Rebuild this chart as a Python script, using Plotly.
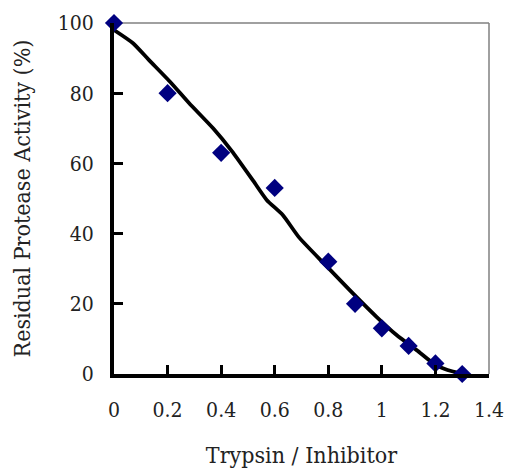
import plotly.graph_objects as go

# measured data points
ratio = [0, 0.2, 0.4, 0.6, 0.8, 0.9, 1.0, 1.1, 1.2, 1.3]
activity = [100, 80, 63, 53, 32, 20, 13, 8, 3, 0]

# fitted (smoothed) curve
curve_x = [0, 0.07, 0.13, 0.21, 0.28, 0.37, 0.44, 0.52, 0.57, 0.63, 0.69, 0.79, 0.88, 0.98, 1.055, 1.13, 1.2, 1.265, 1.3]
curve_y = [98, 94.3, 89.5, 83.2, 77.2, 70, 63.5, 55, 49.6, 45.3, 39, 31, 23.9, 16.3, 11.1, 6.8, 2.6, 0.7, 0.2]

x_ticks = [0, 0.2, 0.4, 0.6, 0.8, 1.0, 1.2, 1.4]
x_ticklabels = ["0", "0.2", "0.4", "0.6", "0.8", "1", "1.2", "1.4"]
y_ticks = [0, 20, 40, 60, 80, 100]

FONT = "DejaVu Serif Condensed, DejaVu Serif"

fig = go.Figure()
fig.add_trace(go.Scatter(x=curve_x, y=curve_y, mode="lines",
                         line=dict(color="black", width=3.8, shape="spline", smoothing=0.6),
                         cliponaxis=False, showlegend=False, hoverinfo="skip"))
fig.add_trace(go.Scatter(x=ratio, y=activity, mode="markers",
                         marker=dict(symbol="diamond", color="#000080", size=14),
                         cliponaxis=False, showlegend=False))

# thin grey frame on top and right
fig.add_shape(type="line", xref="paper", yref="paper", x0=0, x1=1, y0=1, y1=1,
              line=dict(color="#808080", width=1.5), layer="below")
fig.add_shape(type="line", xref="paper", yref="paper", x0=1, x1=1, y0=0, y1=1,
              line=dict(color="#808080", width=1.5), layer="below")

tickfont = dict(family=FONT, size=21, color="#222222")
titlefont = dict(family=FONT, size=23, color="#222222")

fig.update_layout(
    width=507, height=470,
    margin=dict(l=114, r=18, t=23, b=96),
    paper_bgcolor="white", plot_bgcolor="white",
    font=dict(family=FONT, size=21, color="#222222"),
    xaxis=dict(range=[0, 1.4], tickvals=x_ticks, ticktext=x_ticklabels,
               tickfont=tickfont, automargin=False,
               showgrid=False, zeroline=False, showline=True, linecolor="black", linewidth=4,
               ticks="inside", ticklen=9, tickwidth=3, tickcolor="black",
               ticklabelstandoff=14,
               title=dict(text="Trypsin / Inhibitor", standoff=27, font=titlefont)),
    yaxis=dict(range=[0, 100], tickvals=y_ticks,
               tickfont=tickfont, automargin=False,
               showgrid=False, zeroline=False, showline=True, linecolor="black", linewidth=4,
               ticks="inside", ticklen=9, tickwidth=3, tickcolor="black",
               ticklabelstandoff=12,
               title=dict(text="Residual Protease Activity (%)", standoff=22, font=titlefont)),
)

fig.write_html("out.html")
